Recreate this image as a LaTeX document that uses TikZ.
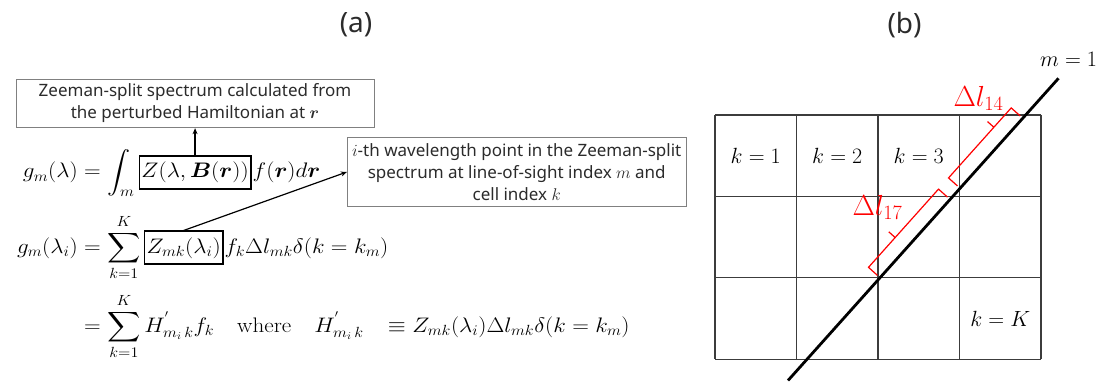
\RequirePackage{fix-cm}
\documentclass[tikz,border=0pt]{standalone}
\usepackage{amsmath,amssymb}
\usepackage{graphicx}
\usepackage{fontspec}
\usetikzlibrary{positioning, arrows.meta, calc}
\newfontfamily\notefont{Noto Sans}
\newcommand{\eqscaled}[2][1.1]{\scalebox{#1}[1]{$\displaystyle #2$}}
\definecolor{color_box}{HTML}{808080}
\definecolor{color_text}{HTML}{2B2B2B}
\definecolor{color_grid}{HTML}{3C3C3C}
\definecolor{color_mark}{HTML}{FF0000}
\tikzset{
  note_box/.style={draw=color_box, line width=1pt, font=\notefont\fontsize{17}{22}\selectfont, text=color_text, align=center, inner sep=0pt},
  eq_part/.style={font=\fontsize{21}{25}\selectfont, inner sep=0pt},
  eq_frame/.style={eq_part, draw=black, line width=1.6pt, inner xsep=2pt, inner ysep=6pt},
  note_arrow/.style={-{Stealth[length=6pt, width=5pt]}, draw=black, line width=1.2pt},
  panel_label/.style={font=\notefont\fontsize{28}{32}\selectfont, text=color_text},
  cell_edge/.style={draw=color_grid, line width=1.2pt},
  cell_label/.style={font=\fontsize{22}{26}\selectfont, text=black},
  sight_line/.style={draw=black, line width=2.8pt},
  seg_brace/.style={draw=color_mark, line width=1.2pt},
  seg_label/.style={font=\fontsize{29}{33}\selectfont, text=color_mark},
}

\begin{document}
\begin{tikzpicture}[x=1pt, y=-1pt]
    \useasboundingbox (0,0) rectangle (1099,387);
    % Panel titles
    \node[panel_label] (title_a) at (356,25) {(a)};
    \node[panel_label] (title_b) at (904.5,25) {(b)};

    % Continuous form
    \node[eq_part, anchor=base east] (eq1_lhs) at (101,178) {\eqscaled{g_m(\lambda) =}};
    \node[eq_part, right=6pt of eq1_lhs.base east, anchor=base west] (eq1_int) {\eqscaled{\int_m}};
    \node[eq_frame, right=4pt of eq1_int.base east, anchor=base west] (z_full) {\eqscaled{Z(\lambda, \boldsymbol{B}(\boldsymbol{r}))}};
    \node[eq_part, right=1pt of z_full.base east, anchor=base west] (eq1_rhs) {\eqscaled{f(\boldsymbol{r})d\boldsymbol{r}}};

    % Discrete form
    \node[eq_part, anchor=base east] (eq2_lhs) at (101,253) {\eqscaled{g_m(\lambda_i) =}};
    \node[eq_part, right=6pt of eq2_lhs.base east, anchor=base west] (eq2_sum) {\eqscaled{\sum_{k=1}^{K}}};
    \node[eq_frame, right=3pt of eq2_sum.base east, anchor=base west] (z_cell) {\eqscaled{Z_{mk}(\lambda_i)}};
    \node[eq_part, right=1pt of z_cell.base east, anchor=base west] (eq2_rhs) {\eqscaled{f_k \Delta l_{mk} \delta(k = k_m)}};
    \node[eq_part, anchor=base west] (eq3) at (84,332)
      {\eqscaled{= \sum_{k=1}^{K} H^{'}_{m_i\,k} f_k \quad \text{where} \quad H^{'}_{m_i\,k} \mkern14mu \equiv Z_{mk}(\lambda_i) \Delta l_{mk} \delta(k = k_m)}};

    % Notes
    \node[note_box, minimum width=358pt, minimum height=48.4pt] (note_full) at (195,103.5)
      {Zeeman-split spectrum calculated from\\the perturbed Hamiltonian at $\boldsymbol{r}$};
    \node[note_box, minimum width=338.7pt, minimum height=69.4pt] (note_cell) at (516.7,172)
      {$i$-th wavelength point in the Zeeman-split\\spectrum at line-of-sight index $m$ and\\cell index $k$};
    \draw[note_arrow] (z_full.north) -- (z_full.north |- note_full.south);
    \draw[note_arrow] (z_cell.north) -- (note_cell.west);

    % Cell grid
    \foreach \col in {0,...,4}
      \draw[cell_edge] ({715+81.5*\col},115) -- ({715+81.5*\col},359.2);
    \foreach \row in {0,...,3}
      \draw[cell_edge] (715,{115+81.4*\row}) -- (1041,{115+81.4*\row});
    \foreach \n in {1,2,3}
      \node[cell_label] (cell_\n) at ({715+81.5*(\n-0.5)},155.7) {$k = \n$};
    \node[cell_label] (cell_K) at (1000.25,318.5) {$k = K$};

    % Line of sight
    \coordinate (los_start) at (788,380.5);
    \coordinate (los_end) at (1058.5,78.3);
    \draw[sight_line] (los_start) -- (los_end);
    \node[cell_label, anchor=base west] (los_name) at (1036.5,66.7) {$m = 1$};

    % Path lengths
    \begin{scope}[shift={(los_start)}, rotate=48.17]
      \draw[seg_brace] (138,-3.5) -- (138,-15.5) -- (243,-15.5) -- (243,-3.5) (178,-15.5) -- (178,-24);
      \draw[seg_brace] (258,-3.5) -- (258,-15.5) -- (352,-15.5) -- (352,-3.5) (326,-15.5) -- (326,-24);
    \end{scope}
    \node[seg_label, anchor=base west] (len_14) at (950,106.5) {$\Delta l_{14}$};
    \node[seg_label, anchor=base west] (len_17) at (849,215.5) {$\Delta l_{17}$};
\end{tikzpicture}
\end{document}
